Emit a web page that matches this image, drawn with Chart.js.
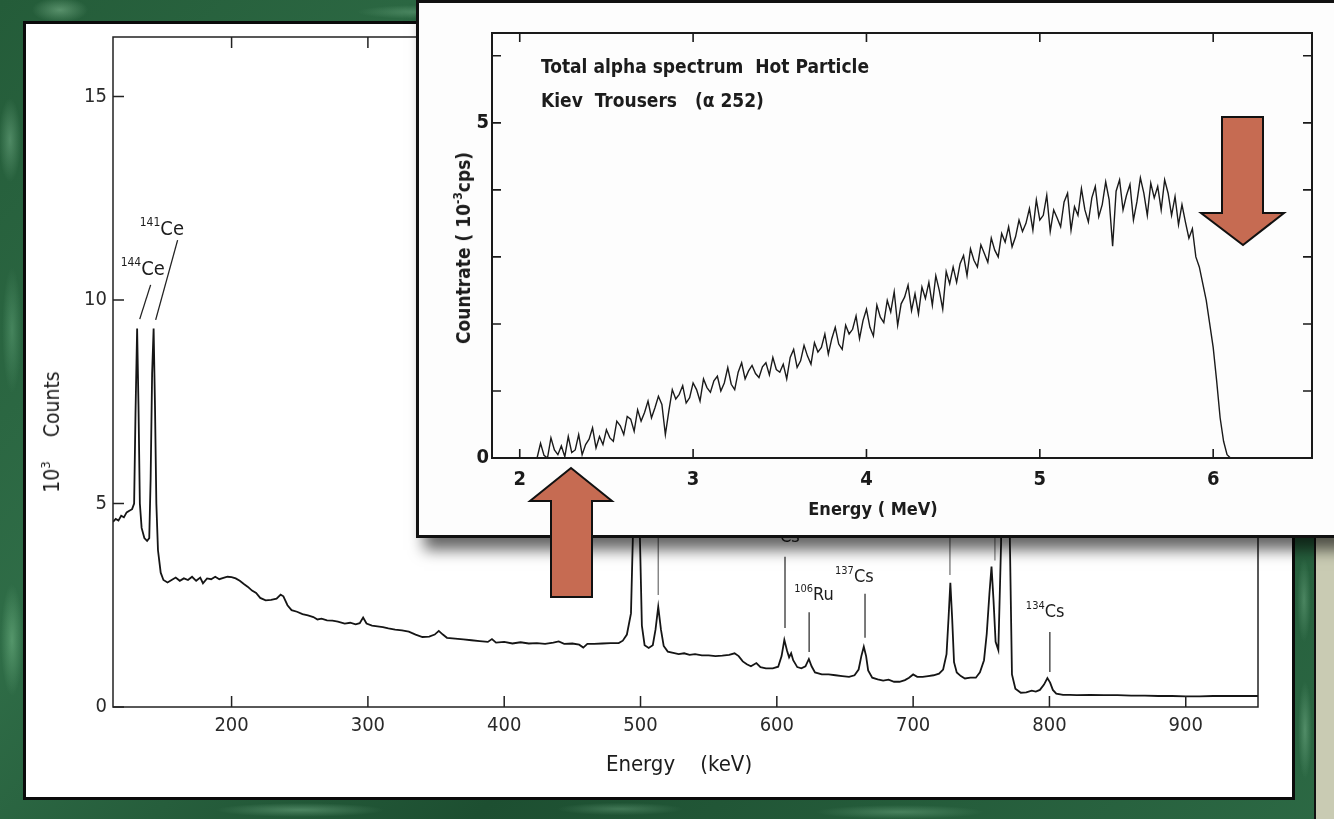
<!DOCTYPE html>
<html>
<head>
<meta charset="utf-8">
<script src="https://cdn.jsdelivr.net/npm/chart.js@4.4.1/dist/chart.umd.min.js"></script>
<style>
  html, body { margin: 0; padding: 0; }
  body {
    width: 1334px; height: 819px; position: relative; overflow: hidden;
    font-family: 'DejaVu Sans Condensed', 'Liberation Sans Narrow', Roboto, sans-serif;
    background:
      radial-gradient(ellipse 40px 18px at 60px 10px, rgba(150,205,165,.45), transparent 70%),
      radial-gradient(ellipse 90px 10px at 420px 12px, rgba(140,200,160,.35), transparent 70%),
      radial-gradient(ellipse 16px 60px at 10px 140px, rgba(140,200,160,.4), transparent 70%),
      radial-gradient(ellipse 14px 90px at 12px 330px, rgba(120,190,145,.35), transparent 70%),
      radial-gradient(ellipse 16px 80px at 12px 640px, rgba(130,200,150,.45), transparent 70%),
      radial-gradient(ellipse 120px 10px at 300px 810px, rgba(140,200,160,.4), transparent 70%),
      radial-gradient(ellipse 90px 9px at 620px 809px, rgba(140,200,160,.3), transparent 70%),
      radial-gradient(ellipse 120px 10px at 900px 812px, rgba(140,200,160,.35), transparent 70%),
      radial-gradient(ellipse 10px 60px at 1304px 600px, rgba(140,200,160,.35), transparent 70%),
      radial-gradient(ellipse 10px 70px at 1305px 730px, rgba(140,200,160,.4), transparent 70%),
      linear-gradient(135deg, #245c39, #2f6d47 30%, #1d4f31 60%, #2c6944);
  }
  #edge { position: absolute; left: 1314px; top: 0; width: 20px; height: 819px; background: #c9cbb3; border-left: 2px solid #111; }
  #panel { position: absolute; left: 23px; top: 21px; width: 1266px; height: 773px; border: 3px solid #0b0b0b; background: #fff; }
  #main { position: absolute; left: 0; top: 0; z-index: 2; }
  #inset {
    position: absolute; left: 416px; top: 0; width: 960px; height: 532px; z-index: 3;
    border: 3px solid #111; background: #fdfdfd;
    box-shadow: 8px 12px 14px rgba(0,0,0,0.6);
  }
  #alpha { position: absolute; left: 0; top: 0; }
  .txt { position: absolute; white-space: nowrap; color: #1c1c1c; z-index: 4; }
  .mid { transform: translate(-50%, -50%); }
  .rot { transform: translate(-50%, -50%) rotate(-90deg); }
  sup { font-size: 62%; vertical-align: 0; position: relative; top: -0.7em; }
  #arrows { position: absolute; left: 0; top: 0; z-index: 5; }
</style>
</head>
<body>
<div id="edge"></div>
<div id="panel"></div>
<canvas id="main" width="1334" height="819"></canvas>
<div class="txt rot" style="left:52px; top:432px; font-size:21px;">10<sup>3</sup>&nbsp;&nbsp;&nbsp;&nbsp;Counts</div>
<div class="txt mid" style="left:679px; top:763px; font-size:22px;">Energy&nbsp;&nbsp;&nbsp;&nbsp;(keV)</div>

<div id="inset"><canvas id="alpha" width="915" height="532"></canvas></div>
<div class="txt" style="left:541px; top:55px; font-size:19px; font-weight:600;">Total alpha spectrum&nbsp; Hot Particle</div>
<div class="txt" style="left:541px; top:89px; font-size:19px; font-weight:600;">Kiev&nbsp; Trousers&nbsp;&nbsp; (α 252)</div>
<div class="txt rot" style="left:463px; top:248px; font-size:19px; font-weight:600;">Countrate ( 10<sup>-3</sup>cps)</div>
<div class="txt mid" style="left:873px; top:508px; font-size:18px; font-weight:600;">Energy ( MeV)</div>

<svg id="arrows" width="1334" height="819">
  <polygon points="571,468 612,501 592,501 592,597 551,597 551,501 530,501" fill="#c66b52" stroke="#111" stroke-width="2" stroke-linejoin="miter"/>
  <polygon points="1222,117 1263,117 1263,213 1284,213 1243,245 1201,213 1222,213" fill="#c66b52" stroke="#111" stroke-width="2" stroke-linejoin="miter"/>
</svg>

<script>
const FONT = "'DejaVu Sans Condensed', 'Liberation Sans Narrow', Roboto, sans-serif";

// gamma spectrum (keV, 10^3 counts)
const gammaEnergy = [113, 115, 117, 119, 121, 123, 125, 127, 128.5, 129.5, 130.7, 131.7, 132.7, 134, 136, 138, 139.6, 140.6, 141.7, 142.8, 143.8, 144.8, 146, 148, 150, 153, 156, 159, 162, 165, 168, 171, 174, 177, 179, 182, 185, 188, 191, 194, 197, 200, 203, 206, 209, 212, 215, 218, 221, 225, 229, 233, 236, 238, 241, 244, 248, 252, 256, 260, 263, 266, 270, 274, 278, 283, 287, 291, 294, 296.5, 299, 303, 307, 311, 315, 320, 325, 330, 335, 340, 345, 349, 352, 355, 358, 364, 370, 376, 382, 388, 391, 394, 400, 406, 412, 418, 424, 430, 436, 440, 444, 450, 455, 458, 461, 466, 472, 478, 484, 487, 490, 493, 495, 497, 499, 501, 503, 506, 509, 511, 513, 515, 517, 520, 524, 528, 532, 536, 540, 545, 550, 555, 560, 565, 569, 572, 575, 578, 581, 585, 588, 592, 597, 601, 603.5, 605.5, 607.5, 609, 610.5, 612, 615, 618, 621, 623.5, 625.5, 628, 633, 638, 643, 648, 653, 657, 660, 662, 663.8, 665.5, 667, 670, 674, 678, 682, 686, 690, 694, 697, 700, 703, 707, 711, 715, 719, 722, 724.5, 726, 727.3, 728.6, 730, 732, 735, 738, 742, 746, 749, 752, 754, 756, 757.5, 759, 760.5, 762.5, 764.5, 766.5, 769, 771, 772.5, 775, 779, 783, 787, 790, 793, 796, 798.5, 800.5, 802.5, 805, 810, 815, 820, 830, 840, 850, 860, 870, 880, 890, 900, 910, 920, 930, 940, 953];
const gammaCounts = [4.55, 4.62, 4.58, 4.7, 4.66, 4.78, 4.82, 4.86, 5.0, 7.2, 9.3, 7.4, 5.0, 4.4, 4.15, 4.08, 4.15, 5.6, 8.2, 9.3, 7.4, 5.0, 3.85, 3.3, 3.12, 3.06, 3.12, 3.18, 3.1, 3.16, 3.12, 3.2, 3.1, 3.18, 3.04, 3.16, 3.14, 3.2, 3.14, 3.17, 3.2, 3.19, 3.16, 3.1, 3.02, 2.95, 2.86, 2.8, 2.68, 2.62, 2.63, 2.66, 2.76, 2.72, 2.5, 2.38, 2.34, 2.28, 2.25, 2.21, 2.15, 2.17, 2.13, 2.12, 2.1, 2.05, 2.07, 2.03, 2.06, 2.2, 2.05, 2.0, 1.98, 1.96, 1.93, 1.9, 1.88, 1.85, 1.78, 1.72, 1.73, 1.78, 1.87, 1.78, 1.7, 1.68, 1.66, 1.64, 1.62, 1.6, 1.67, 1.58, 1.6, 1.56, 1.59, 1.56, 1.57, 1.55, 1.58, 1.61, 1.55, 1.56, 1.53, 1.46, 1.55, 1.55, 1.56, 1.57, 1.57, 1.63, 1.78, 2.3, 5.0, 8.0, 5.0, 2.0, 1.52, 1.45, 1.52, 1.9, 2.46, 1.9, 1.5, 1.36, 1.33, 1.3, 1.32, 1.28, 1.3, 1.27, 1.27, 1.25, 1.26, 1.28, 1.32, 1.25, 1.12, 1.05, 1.0, 1.08, 0.98, 0.95, 0.95, 0.99, 1.25, 1.65, 1.38, 1.22, 1.32, 1.15, 0.98, 0.95, 1.0, 1.18, 1.0, 0.85, 0.8, 0.8, 0.78, 0.76, 0.74, 0.78, 0.92, 1.25, 1.48, 1.25, 0.9, 0.72, 0.68, 0.65, 0.67, 0.62, 0.62, 0.66, 0.72, 0.8, 0.74, 0.74, 0.76, 0.78, 0.82, 0.92, 1.3, 2.2, 3.05, 2.2, 1.1, 0.85, 0.76, 0.7, 0.72, 0.72, 0.85, 1.15, 1.8, 2.8, 3.45, 2.6, 1.6, 1.4, 4.0, 12.0, 12.0, 4.0, 0.8, 0.45, 0.35, 0.36, 0.4, 0.38, 0.42, 0.55, 0.71, 0.6, 0.42, 0.33, 0.3, 0.3, 0.29, 0.3, 0.29, 0.29, 0.28, 0.28, 0.27, 0.27, 0.26, 0.26, 0.27, 0.27, 0.27, 0.27];
const gammaXTicks = [200, 300, 400, 500, 600, 700, 800, 900];
const gammaYTicks = [0, 5, 10, 15];

// isotope labels: [mass, element, left energy, baseline value, size]
const isoLabels = [
  ['144', 'Ce', 118.6, 10.61, 20],
  ['141', 'Ce', 132.6, 11.6, 20],
  ['134', 'Cs', 588.5, 4.05, 18],
  ['106', 'Ru', 612.7, 2.63, 18],
  ['137', 'Cs', 642.7, 3.07, 18],
  ['134', 'Cs', 782.7, 2.21, 18]
];
// leader lines: [e0, v0, e1, v1, colour]
const leaders = [
  [132.6, 9.53, 140.6, 10.37, '#222'],
  [144.3, 9.51, 160.4, 11.47, '#222'],
  [606, 1.94, 606, 3.69, '#333'],
  [623.7, 1.35, 623.7, 2.33, '#333'],
  [664.7, 1.70, 664.7, 2.78, '#333'],
  [800.3, 0.86, 800.3, 1.84, '#333'],
  [513, 2.75, 513, 4.6, '#777'],
  [727, 3.24, 727, 4.6, '#777'],
  [760, 3.6, 760, 4.6, '#888']
];

// alpha spectrum (MeV, 10^-3 cps), bins of 0.02 MeV from 2.10
const alphaStart = 2.10;
const alphaStep = 0.02;
const alphaRate = [
  0, 0.22, 0.04, 0, 0.3, 0.12, 0.05, 0.18, 0.02, 0.32,
  0.08, 0.12, 0.35, 0.05, 0.2, 0.28, 0.45, 0.15, 0.32, 0.2,
  0.42, 0.3, 0.25, 0.55, 0.48, 0.35, 0.62, 0.58, 0.4, 0.72,
  0.55, 0.68, 0.85, 0.6, 0.75, 0.92, 0.8, 0.35, 0.7, 1.02,
  0.88, 0.95, 1.08, 0.82, 0.9, 1.12, 1.02, 0.85, 1.18, 1.05,
  0.98, 1.15, 1.22, 1.0, 1.12, 1.35, 1.1, 1.02, 1.28, 1.42,
  1.18, 1.3, 1.38, 1.26, 1.2, 1.36, 1.42, 1.24, 1.5, 1.32,
  1.28, 1.4, 1.18, 1.5, 1.62, 1.35, 1.45, 1.68, 1.52, 1.4,
  1.72, 1.58, 1.65, 1.85, 1.55, 1.78, 1.95, 1.7, 1.62, 1.98,
  1.85, 1.92, 2.12, 1.78, 2.05, 2.22, 1.95, 1.82, 2.28, 2.1,
  2.02, 2.35, 2.18, 2.48, 1.98, 2.3, 2.4, 2.58, 2.2, 2.45,
  2.15, 2.55, 2.38, 2.62, 2.28, 2.72, 2.5, 2.22, 2.78, 2.6,
  2.85, 2.62, 2.9, 3.02, 2.72, 3.12, 2.95, 2.85, 3.18, 3.05,
  2.92, 3.28, 3.1, 3.0, 3.35, 3.22, 3.45, 3.15, 3.3, 3.55,
  3.38, 3.5, 3.72, 3.4, 3.85, 3.55, 3.62, 3.92, 3.38, 3.7,
  3.58, 3.45, 3.82, 3.95, 3.4, 3.75, 3.62, 4.02, 3.7, 3.52,
  3.88, 4.05, 3.6, 3.78, 4.12, 3.85, 3.16, 3.98, 4.15, 3.7,
  3.92, 4.08, 3.55, 3.82, 4.18, 3.95, 3.62, 4.1, 3.88, 4.05,
  3.7, 4.15, 3.95, 3.62, 3.9, 3.48, 3.78, 3.52, 3.28, 3.42,
  3.0, 2.85, 2.6, 2.35, 2.0, 1.65, 1.15, 0.6, 0.25, 0.05,
  0
];
const alphaXTicks = [2, 3, 4, 5, 6];
const alphaYTicks = [0, 5];
const alphaYMarks = [0, 1, 2, 3, 4, 5, 6];

const framePlugin = {
  id: 'frame',
  afterDraw(chart, args, o) {
    const { ctx, chartArea: a, scales: { x, y } } = chart;
    ctx.save();
    ctx.strokeStyle = o.color;
    ctx.lineWidth = o.width;
    ctx.strokeRect(a.left, a.top, a.right - a.left, a.bottom - a.top);
    ctx.lineWidth = o.tickWidth;
    ctx.beginPath();
    o.xMarks.forEach(v => {
      const px = x.getPixelForValue(v);
      ctx.moveTo(px, a.bottom); ctx.lineTo(px, a.bottom - o.len);
      ctx.moveTo(px, a.top); ctx.lineTo(px, a.top + o.len);
    });
    o.yMarks.forEach(v => {
      const py = y.getPixelForValue(v);
      ctx.moveTo(a.left, py); ctx.lineTo(a.left + o.len, py);
      if (o.right) { ctx.moveTo(a.right, py); ctx.lineTo(a.right - o.len, py); }
    });
    ctx.stroke();
    ctx.restore();
  }
};

const labelPlugin = {
  id: 'isotopes',
  afterDatasetsDraw(chart) {
    const { ctx, scales: { x, y } } = chart;
    ctx.save();
    ctx.lineWidth = 1.3;
    leaders.forEach(([e0, v0, e1, v1, c]) => {
      ctx.strokeStyle = c;
      ctx.beginPath();
      ctx.moveTo(x.getPixelForValue(e0), y.getPixelForValue(v0));
      ctx.lineTo(x.getPixelForValue(e1), y.getPixelForValue(v1));
      ctx.stroke();
    });
    ctx.fillStyle = '#1c1c1c';
    ctx.textBaseline = 'alphabetic';
    isoLabels.forEach(([m, el, e, v, s]) => {
      let px = x.getPixelForValue(e);
      const py = y.getPixelForValue(v);
      ctx.font = `${Math.round(s * 0.62)}px ${FONT}`;
      ctx.fillText(m, px, py - s * 0.45);
      px += ctx.measureText(m).width;
      ctx.font = `${s}px ${FONT}`;
      ctx.fillText(el, px, py);
    });
    ctx.restore();
  }
};

Chart.defaults.font.family = FONT;
Chart.defaults.color = '#222';

new Chart(document.getElementById('main'), {
  type: 'line',
  data: {
    datasets: [{
      data: gammaEnergy.map((e, i) => ({ x: e, y: gammaCounts[i] })),
      borderColor: '#151515',
      borderWidth: 1.8,
      pointRadius: 0,
      tension: 0
    }]
  },
  options: {
    responsive: false,
    animation: false,
    layout: { padding: { left: 20, top: 37, right: 76, bottom: 20 } },
    plugins: {
      legend: { display: false },
      tooltip: { enabled: false },
      frame: { color: '#222', width: 1.5, tickWidth: 1.5, len: 11, xMarks: gammaXTicks, yMarks: gammaYTicks, right: false }
    },
    scales: {
      x: {
        type: 'linear', min: 113, max: 953,
        afterBuildTicks: s => { s.ticks = gammaXTicks.map(v => ({ value: v })); },
        afterFit: s => { s.height = 819 - 20 - 707; },
        grid: { display: false, drawTicks: false },
        border: { display: false },
        ticks: { padding: 7, font: { size: 20 }, color: '#2a2a2a', maxRotation: 0 }
      },
      y: {
        type: 'linear', min: 0, max: 16.46,
        afterBuildTicks: s => { s.ticks = gammaYTicks.map(v => ({ value: v })); },
        afterFit: s => { s.width = 113 - 20; },
        grid: { display: false, drawTicks: false },
        border: { display: false },
        ticks: { padding: 6, font: { size: 20 }, color: '#2a2a2a' }
      }
    }
  },
  plugins: [framePlugin, labelPlugin]
});

new Chart(document.getElementById('alpha'), {
  type: 'line',
  data: {
    datasets: [{
      data: alphaRate.map((r, i) => ({ x: alphaStart + i * alphaStep, y: r })),
      borderColor: '#1a1a1a',
      borderWidth: 1.4,
      pointRadius: 0,
      tension: 0
    }]
  },
  options: {
    responsive: false,
    animation: false,
    layout: { padding: { left: 10, top: 30, right: 22, bottom: 10 } },
    plugins: {
      legend: { display: false },
      tooltip: { enabled: false },
      frame: { color: '#1a1a1a', width: 2, tickWidth: 1.6, len: 9, xMarks: alphaXTicks, yMarks: alphaYMarks, right: true }
    },
    scales: {
      x: {
        type: 'linear', min: 1.84, max: 6.57,
        afterBuildTicks: s => { s.ticks = alphaXTicks.map(v => ({ value: v })); },
        afterFit: s => { s.height = 535 - 10 - 458; },
        grid: { display: false, drawTicks: false },
        border: { display: false },
        ticks: { padding: 10, font: { size: 20, weight: '600' }, color: '#1a1a1a', maxRotation: 0 }
      },
      y: {
        type: 'linear', min: 0, max: 6.34,
        afterBuildTicks: s => { s.ticks = alphaYTicks.map(v => ({ value: v })); },
        afterFit: s => { s.width = 492 - 419 - 10; },
        grid: { display: false, drawTicks: false },
        border: { display: false },
        ticks: { padding: 3, font: { size: 20, weight: '600' }, color: '#1a1a1a' }
      }
    }
  },
  plugins: [framePlugin]
});
</script>
</body>
</html>
